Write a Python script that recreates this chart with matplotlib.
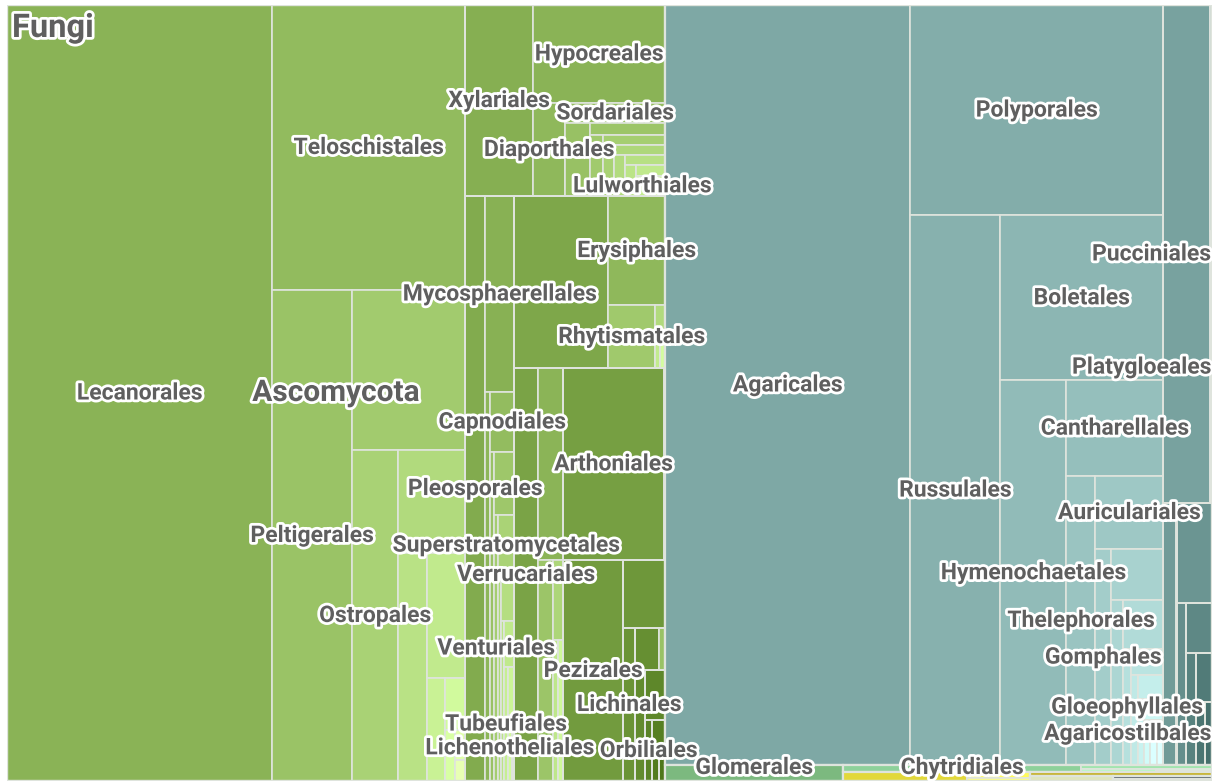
import matplotlib
matplotlib.use("Agg")
import matplotlib.pyplot as plt
import matplotlib.patheffects as pe
from matplotlib.patches import Rectangle
from matplotlib.colors import to_rgb, to_hex

# ---------------- data ----------------
root_name = "Fungi"
phyla = ["Ascomycota", "Basidiomycota", "Glomeromycota", "Chytridiomycota",
         "Mucoromycota", "Zoopagomycota", "Blastocladiomycota", "Microsporidia", "Cryptomycota"]
phylum_colors = ["#8ab356", "#7ea8a5", "#7cb97f", "#8ed19a",
                 "#e2d83a", "#c6b22a", "#dfe6bd", "#45505a", "#5d6a74"]

# Ascomycota
ascomycota_classes = ["Lecanoromycetes", "Sordariomycetes", "Dothideomycetes", "Leotiomycetes",
                      "Eurotiomycetes", "Arthoniomycetes", "Pezizomycetes", "Saccharomycetes",
                      "Lichinomycetes", "Laboulbeniomycetes", "Taphrinomycetes", "Geoglossomycetes",
                      "Orbiliomycetes", "Xylonomycetes", "Coniocybomycetes", "Sareomycetes"]
lecanoromycetes_orders = ["Lecanorales", "Teloschistales", "Peltigerales", "Pertusariales", "Ostropales",
                          "Caliciales", "Umbilicariales", "Baeomycetales", "Rhizocarpales",
                          "Acarosporales", "Candelariales", "Leprocaulales", "Sarrameanales"]
lecanoromycetes_values = [20564, 5500, 3928, 1808, 1523, 690, 661, 475, 185, 104, 51, 30, 21]
sordariomycetes_orders = ["Xylariales", "Hypocreales", "Diaporthales", "Sordariales", "Glomerellales",
                          "Microascales", "Ophiostomatales", "Magnaporthales", "Boliniales",
                          "Chaetosphaeriales", "Calosphaeriales", "Coronophorales", "Meliolales",
                          "Phyllachorales", "Lulworthiales", "Koralionastetales", "Torpedosporales",
                          "Annulatascales", "Amphisphaeriales", "Pisorisporiales", "Savoryellales",
                          "Jobellisiales", "Togniniales"]
sordariomycetes_values = [1299, 1294, 298, 200, 183, 90, 79, 62, 55, 51, 45, 42, 35, 30, 25,
                          10, 8, 6, 4, 3, 2, 1, 1]
dothideomycetes_orders = ["Pleosporales", "Mycosphaerellales", "Botryosphaeriales", "Capnodiales",
                          "Dothideales", "Hysteriales", "Venturiales", "Superstratomycetales",
                          "Myriangiales", "Patellariales", "Trypetheliales", "Strigulales",
                          "Tubeufiales", "Microthyriales", "Lichenotheliales", "Jahnulales",
                          "Asterinales", "Kirschsteiniotheliales"]
dothideomycetes_values = [1170, 568, 195, 144, 132, 126, 106, 96, 62, 60, 50, 45, 40, 30, 25, 8, 5, 4]
leotiomycetes_orders = ["Helotiales", "Erysiphales", "Rhytismatales", "Thelebolales", "Leotiales", "Phacidiales"]
leotiomycetes_values = [1617, 621, 296, 35, 14, 14]
eurotiomycetes_orders = ["Verrucariales", "Chaetothyriales", "Eurotiales", "Pyrenulales",
                         "Mycocaliciales", "Onygenales"]
eurotiomycetes_values = [991, 480, 332, 80, 71, 70]
arthoniomycetes_orders = ["Arthoniales", "Lichenostigmatales"]
arthoniomycetes_values = [1928, 30]
pezizomycetes_orders = ["Pezizales"]
pezizomycetes_values = [1326]
saccharomycetes_orders = ["Saccharomycetales"]
saccharomycetes_values = [286]
lichinomycetes_orders = ["Lichinales"]
lichinomycetes_values = [184]
laboulbeniomycetes_orders = ["Laboulbeniales", "Pyxidiophorales"]
laboulbeniomycetes_values = [100, 26]
taphrinomycetes_orders = ["Taphrinales"]
taphrinomycetes_values = [111]
geoglossomycetes_orders = ["Geoglossales"]
geoglossomycetes_values = [100]
orbiliomycetes_orders = ["Orbiliales"]
orbiliomycetes_values = [43]
xylonomycetes_orders = ["Xylonales"]
xylonomycetes_values = [39]
coniocybomycetes_orders = ["Coniocybales"]
coniocybomycetes_values = [21]
sareomycetes_orders = ["Sareales"]
sareomycetes_values = [19]

# Basidiomycota
basidiomycota_classes = ["Agaricomycetes", "Pucciniomycetes", "Ustilaginomycetes", "Tremellomycetes",
                         "Exobasidiomycetes", "Dacrymycetes", "Microbotryomycetes", "Malasseziomycetes",
                         "Agaricostilbomycetes", "Cystobasidiomycetes"]
agaricomycetes_orders = ["Agaricales", "Polyporales", "Russulales", "Boletales", "Hymenochaetales",
                         "Cantharellales", "Thelephorales", "Auriculariales", "Gomphales", "Trechisporales",
                         "Sebacinales", "Atheliales", "Gloeophyllales", "Geastrales", "Hysterangiales",
                         "Corticiales", "Phallales", "Tremellodendropsidales", "Lepidostromatales",
                         "Amylocorticiales", "Jaapiales", "Stereopsidales"]
agaricomycetes_values = [18620, 5313, 4950, 2690, 2541, 922, 841, 496, 326, 265, 200, 199, 94,
                         83, 65, 60, 42, 40, 25, 23, 20, 15]
pucciniomycetes_orders = ["Pucciniales", "Septobasidiales", "Platygloeales", "Helicobasidiales"]
pucciniomycetes_values = [2341, 45, 35, 19]
ustilaginomycetes_orders = ["Ustilaginales", "Urocystidales"]
ustilaginomycetes_values = [330, 37]
tremellomycetes_orders = ["Tremellales"]
tremellomycetes_values = [350]
exobasidiomycetes_orders = ["Exobasidiales"]
exobasidiomycetes_values = [145]
dacrymycetes_orders = ["Dacrymycetales"]
dacrymycetes_values = [130]
microbotryomycetes_orders = ["Sporidiobolales"]
microbotryomycetes_values = [110]
malasseziomycetes_orders = ["Malasseziales"]
malasseziomycetes_values = [80]
agaricostilbomycetes_orders = ["Agaricostilbales"]
agaricostilbomycetes_values = [56]
cystobasidiomycetes_orders = ["Cystobasidiales"]
cystobasidiomycetes_values = [46]

# smaller phyla
glomeromycota_classes = ["Glomeromycetes"]
glomeromycetes_orders = ["Glomerales"]
glomeromycetes_values = [285]
chytridiomycota_classes = ["Chytridiomycetes"]
chytridiomycetes_orders = ["Chytridiales", "Rhizophydiales", "Spizellomycetales", "Cladochytriales", "Synchytriales"]
chytridiomycetes_values = [168, 50, 24, 11, 7]
mucoromycota_classes = ["Mucoromycetes"]
mucoromycetes_orders = ["Mucorales", "Mortierellales", "Endogonales"]
mucoromycetes_values = [112, 38, 18]
zoopagomycota_classes = ["Entomophthoromycetes"]
entomophthoromycetes_orders = ["Entomophthorales"]
entomophthoromycetes_values = [65]
blastocladiomycota_classes = ["Blastocladiomycetes"]
blastocladiomycetes_orders = ["Blastocladiales"]
blastocladiomycetes_values = [45]
microsporidia_classes = ["Microsporea"]
microsporea_orders = ["Microsporidiales"]
microsporea_values = [34]
cryptomycota_classes = ["Rozellomycetes"]
rozellomycetes_orders = ["Rozellales"]
rozellomycetes_values = [20]

labelled_orders = ["Lecanorales", "Teloschistales", "Peltigerales", "Ostropales", "Xylariales",
                   "Hypocreales", "Sordariales", "Diaporthales", "Lulworthiales", "Erysiphales",
                   "Mycosphaerellales", "Rhytismatales", "Capnodiales", "Arthoniales", "Pleosporales",
                   "Superstratomycetales", "Verrucariales", "Venturiales", "Pezizales", "Lichinales",
                   "Tubeufiales", "Lichenotheliales", "Orbiliales", "Agaricales", "Polyporales",
                   "Pucciniales", "Boletales", "Platygloeales", "Cantharellales", "Russulales",
                   "Auriculariales", "Hymenochaetales", "Thelephorales", "Gomphales",
                   "Gloeophyllales", "Agaricostilbales", "Glomerales", "Chytridiales"]
labelled_phyla = ["Ascomycota"]

# ---------------- tree assembly ----------------
G = globals()
phylum_classes = {
    "Ascomycota": ascomycota_classes, "Basidiomycota": basidiomycota_classes,
    "Glomeromycota": glomeromycota_classes, "Chytridiomycota": chytridiomycota_classes,
    "Mucoromycota": mucoromycota_classes, "Zoopagomycota": zoopagomycota_classes,
    "Blastocladiomycota": blastocladiomycota_classes, "Microsporidia": microsporidia_classes,
    "Cryptomycota": cryptomycota_classes,
}


def class_data(cname):
    key = cname.lower()
    names = G[key + "_orders"]
    vals = G[key + "_values"]
    return sorted(zip(names, vals), key=lambda p: -p[1])


tree = []
for pname, pcol in zip(phyla, phylum_colors):
    cls = []
    for cname in phylum_classes[pname]:
        od = class_data(cname)
        cls.append((cname, sum(v for _, v in od), od))
    cls.sort(key=lambda c: -c[1])
    tree.append((pname, pcol, sum(c[1] for c in cls), cls))
tree.sort(key=lambda p: -p[2])


def slice_dice(x, y, w, h, vals):
    tot = float(sum(vals))
    area = w * h
    d = 0
    out = []
    for v in vals:
        a = area * v / tot
        if d == 0:
            pw = a / h if h > 0 else 0
            out.append((x, y, pw, h))
            x += pw
            w -= pw
        else:
            ph = a / w if w > 0 else 0
            out.append((x, y, w, ph))
            y += ph
            h -= ph
        d = 1 - d
    return out


def brighten(col, amt):
    r, g, b = to_rgb(col)
    return to_hex(tuple(min(1.0, max(0.0, c + amt)) for c in (r, g, b)))


CLASS_VAR = -0.25
ORDER_VAR = 0.40

# ---------------- drawing ----------------
FW, FH = 1219, 782
W, H = 1205.0, 776.0
fig = plt.figure(figsize=(FW / 100, FH / 100), dpi=100)
ax = fig.add_axes([7 / FW, 1 - (5 + H) / FH, W / FW, H / FH])
ax.set_xlim(0, W)
ax.set_ylim(H, 0)
ax.axis("off")

edge = "#dfe4dd"
label_col = "#5f5f5f"
outline = [pe.withStroke(linewidth=4.0, foreground="white")]

labels = []
phylum_rects = slice_dice(0, 0, W, H, [p[2] for p in tree])
for (pname, pcol, ptot, cls), prect in zip(tree, phylum_rects):
    class_rects = slice_dice(*prect, [c[1] for c in cls])
    nc = len(cls)
    for ci, ((cname, ctot, od), crect) in enumerate(zip(cls, class_rects)):
        ccol = brighten(pcol, CLASS_VAR * ci / nc) if ci else pcol
        order_rects = slice_dice(*crect, [v for _, v in od])
        no = len(od)
        for oi, ((oname, ov), orect) in enumerate(zip(od, order_rects)):
            ocol = brighten(ccol, ORDER_VAR * oi / no) if oi else ccol
            x, y, w, h = orect
            ax.add_patch(Rectangle((x, y), w, h, facecolor=ocol, edgecolor=edge, lw=1.2))
            if oname in labelled_orders:
                labels.append((oname, x + w / 2, y + h / 2, 16.5))
        x, y, w, h = crect
        ax.add_patch(Rectangle((x, y), w, h, facecolor="none", edgecolor=edge, lw=1.4))
    x, y, w, h = prect
    ax.add_patch(Rectangle((x, y), w, h, facecolor="none", edgecolor=edge, lw=1.6))
    if pname in labelled_phyla:
        labels.append((pname, x + w / 2, y + h / 2, 21.5))

ax.add_patch(Rectangle((0, 0), W, H, facecolor="none", edgecolor=edge, lw=1.6))

fig.canvas.draw()
renderer = fig.canvas.get_renderer()
ax_bb = ax.get_window_extent(renderer)
sx = W / ax_bb.width
sy = H / ax_bb.height
for name, cx, cy, fs in labels:
    t = ax.text(cx, cy, name, ha="center", va="center", fontsize=fs, fontweight="bold",
                family="Roboto", color=label_col, path_effects=outline, zorder=5)
    bb = t.get_window_extent(renderer)
    dx = 0
    if bb.x1 > ax_bb.x1 - 1:
        dx = (ax_bb.x1 - 1) - bb.x1
    elif bb.x0 < ax_bb.x0 + 1:
        dx = (ax_bb.x0 + 1) - bb.x0
    dy = 0
    if bb.y0 < ax_bb.y0 + 2:
        dy = (ax_bb.y0 + 2) - bb.y0
    elif bb.y1 > ax_bb.y1 - 2:
        dy = (ax_bb.y1 - 2) - bb.y1
    if dx or dy:
        t.set_position((cx + dx * sx, cy - dy * sy))

ax.text(5, 23, root_name, ha="left", va="center", fontsize=23.5, fontweight="bold",
        family="Roboto", color=label_col, path_effects=outline, zorder=6)

fig.savefig("out.png", dpi=100, facecolor="white")
